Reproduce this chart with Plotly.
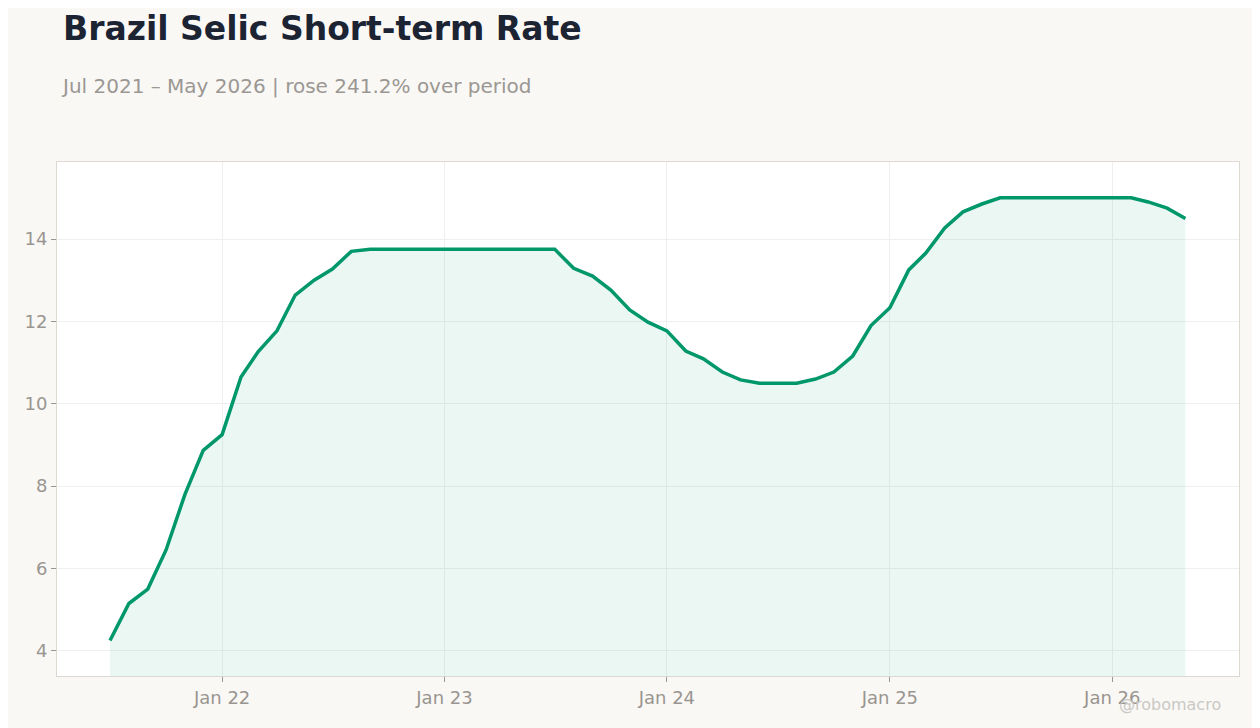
import plotly.graph_objects as go
import pandas as pd

# Monthly Selic rate readings, Jul 2021 - May 2026
dates = pd.date_range("2021-07-01", "2026-05-01", freq="MS")
rates = [
    4.25, 5.15, 5.50, 6.45, 7.80, 8.87,   # 2021 Jul-Dec
    9.25, 10.65, 11.26, 11.77, 12.64, 13.00,
    13.27, 13.70, 13.75, 13.75, 13.75, 13.75,   # 2022
    13.75, 13.75, 13.75, 13.75, 13.75, 13.75,
    13.75, 13.29, 13.10, 12.76, 12.28, 11.98,   # 2023
    11.77, 11.28, 11.09, 10.77, 10.58, 10.50,
    10.50, 10.50, 10.60, 10.77, 11.16, 11.90,   # 2024
    12.33, 13.25, 13.66, 14.27, 14.66, 14.85,
    15.00, 15.00, 15.00, 15.00, 15.00, 15.00,   # 2025
    15.00, 15.00, 14.90, 14.75, 14.50,           # 2026 Jan-May
]

tick_vals = ["2022-01-01", "2023-01-01", "2024-01-01", "2025-01-01", "2026-01-01"]
tick_text = ["Jan 22", "Jan 23", "Jan 24", "Jan 25", "Jan 26"]

change = (rates[-1] / rates[0] - 1) * 100

fig = go.Figure()

fig.add_trace(
    go.Scatter(
        x=dates,
        y=rates,
        mode="lines",
        line=dict(color="#00976a", width=3.5),
        fill="tozeroy",
        fillcolor="rgba(0,151,106,0.08)",
        showlegend=False,
        hovertemplate="%{x|%b %Y}: %{y:.2f}%<extra></extra>",
    )
)

title = "<b>Brazil Selic Short-term Rate</b>"
subtitle = f"Jul 2021 – May 2026 | rose {change:.1f}% over period"

# Page is drawn with an 8px body margin, so margins are shifted to compensate.
fig.update_layout(
    width=1260,
    height=728,
    paper_bgcolor="#f9f8f5",
    plot_bgcolor="#ffffff",
    font=dict(family="DejaVu Sans", color="#999590", size=18),
    margin=dict(l=49, r=29, t=154, b=60),
    title=dict(
        text=title,
        x=0.0437, xref="container", xanchor="left",
        y=0.9725, yref="container", yanchor="middle",
        font=dict(size=33, color="#1c2433"),
    ),
    annotations=[
        dict(
            text=subtitle,
            xref="paper", yref="paper",
            x=0.0017, y=1.148, xanchor="left", yanchor="middle",
            showarrow=False,
            font=dict(size=20, color="#9b9793"),
        ),
        dict(
            text="@robomacro",
            xref="paper", yref="paper",
            x=0.9865, y=-0.0545, xanchor="right", yanchor="middle",
            showarrow=False,
            font=dict(size=16, color="#cac8c4"),
        ),
    ],
)

fig.update_xaxes(
    range=["2021-04-05", "2026-07-28"],
    tickvals=tick_vals,
    ticktext=tick_text,
    showgrid=True,
    gridcolor="#efefef",
    ticks="outside",
    ticklen=5,
    tickcolor="#999590",
    showline=True,
    linecolor="#ddd9d2",
    mirror=True,
    zeroline=False,
)

fig.update_yaxes(
    range=[3.39, 15.87],
    dtick=2,
    showgrid=True,
    gridcolor="#efefef",
    ticks="outside",
    ticklen=5,
    tickcolor="#999590",
    showline=True,
    linecolor="#ddd9d2",
    mirror=True,
    zeroline=False,
)

fig.write_html("out.html")
